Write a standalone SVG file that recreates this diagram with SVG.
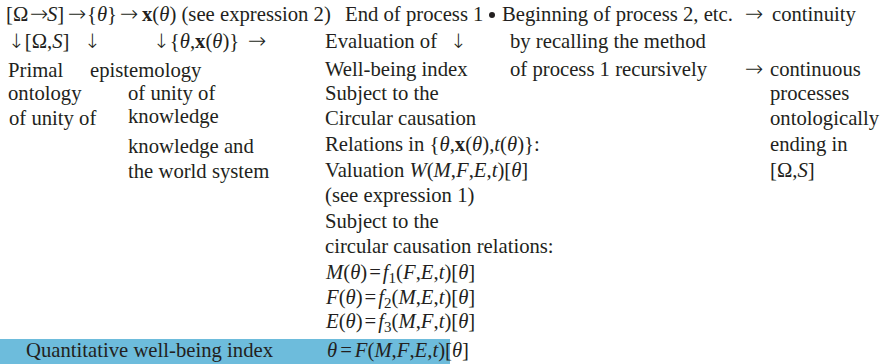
<svg xmlns="http://www.w3.org/2000/svg" width="886" height="364" viewBox="0 0 886 364">
<style>
text{font-family:"Liberation Serif","Times New Roman",serif;font-size:20.7px;fill:#231f20}
.i{font-style:italic}
.b{font-weight:bold}
.sub{font-size:15px}
.a{font-family:"DejaVu Sans",sans-serif;font-size:22px;font-weight:200}
.d{font-family:"DejaVu Sans",sans-serif;font-size:20px;font-weight:200}
</style>
<rect width="886" height="364" fill="#ffffff"/>
<rect id="highlight" x="0" y="339" width="450" height="25" fill="#6dbcdc"/>
<g id="col-ontology">
<text x="6" y="21">[Ω</text>
<text x="30" y="21" class="a">→</text>
<text x="47" y="21"><tspan class="i">S</tspan>]</text>
<text x="68" y="21" class="a">→</text>
<text x="87" y="21">{<tspan class="i">θ</tspan>}</text>
<text x="120" y="21" class="a">→</text>
<text x="142" y="21"><tspan class="b">x</tspan>(<tspan class="i">θ</tspan>) (see expression 2)</text>
<text x="8" y="48"><tspan class="d">↓</tspan>[Ω,<tspan class="i">S</tspan>]</text>
<text x="8" y="77">Primal</text>
<text x="8" y="100">ontology</text>
<text x="9" y="125">of unity of</text>
</g>
<g id="col-epistemology">
<text x="84" y="48" class="d">↓</text>
<text x="90" y="77">epistemology</text>
<text x="128" y="100">of unity of</text>
<text x="128" y="123">knowledge</text>
<text x="128" y="153">knowledge and</text>
<text x="128" y="178">the world system</text>
<text x="153" y="48"><tspan class="d">↓</tspan>{<tspan class="i">θ</tspan>,<tspan class="b">x</tspan>(<tspan class="i">θ</tspan>)}</text>
<text x="248" y="48" class="a">→</text>
</g>
<g id="col-process1">
<text x="345" y="21">End of process 1</text>
<text x="325" y="48">Evaluation of</text>
<text x="450" y="48" class="d">↓</text>
<text x="325" y="76">Well-being index</text>
<text x="325" y="100">Subject to the</text>
<text x="325" y="125">Circular causation</text>
<text x="325" y="151">Relations in {<tspan class="i">θ</tspan>,<tspan class="b">x</tspan>(<tspan class="i">θ</tspan>),<tspan class="i">t</tspan>(<tspan class="i">θ</tspan>)}:</text>
<text x="325" y="177">Valuation <tspan class="i">W</tspan>(<tspan class="i">M</tspan>,<tspan class="i">F</tspan>,<tspan class="i">E</tspan>,<tspan class="i">t</tspan>)[<tspan class="i">θ</tspan>]</text>
<text x="325" y="202">(see expression 1)</text>
<text x="325" y="228">Subject to the</text>
<text x="325" y="253">circular causation relations:</text>
<text x="326" y="279"><tspan class="i">M</tspan>(<tspan class="i">θ</tspan>)<tspan dx="2">=</tspan><tspan class="i" dx="2">f</tspan><tspan class="sub" dy="4">1</tspan><tspan dy="-4">(</tspan><tspan class="i">F</tspan>,<tspan class="i">E</tspan>,<tspan class="i">t</tspan>)[<tspan class="i">θ</tspan>]</text>
<text x="326" y="304"><tspan class="i">F</tspan>(<tspan class="i">θ</tspan>)<tspan dx="2">=</tspan><tspan class="i" dx="2">f</tspan><tspan class="sub" dy="4">2</tspan><tspan dy="-4">(</tspan><tspan class="i">M</tspan>,<tspan class="i">E</tspan>,<tspan class="i">t</tspan>)[<tspan class="i">θ</tspan>]</text>
<text x="326" y="328"><tspan class="i">E</tspan>(<tspan class="i">θ</tspan>)<tspan dx="2">=</tspan><tspan class="i" dx="2">f</tspan><tspan class="sub" dy="4">3</tspan><tspan dy="-4">(</tspan><tspan class="i">M</tspan>,<tspan class="i">F</tspan>,<tspan class="i">t</tspan>)[<tspan class="i">θ</tspan>]</text>
<text x="327" y="357"><tspan class="i">θ</tspan><tspan dx="3">=</tspan><tspan class="i" dx="3">F</tspan>(<tspan class="i">M</tspan>,<tspan class="i">F</tspan>,<tspan class="i">E</tspan>,<tspan class="i">t</tspan>)[<tspan class="i">θ</tspan>]</text>
</g>
<g id="quantitative">
<text x="26" y="357">Quantitative well-being index</text>
</g>
<g id="col-process2">
<circle cx="492" cy="15" r="3" fill="#231f20"/>
<text x="502" y="21">Beginning of process 2, etc.</text>
<text x="510" y="48">by recalling the method</text>
<text x="510" y="76">of process 1 recursively</text>
</g>
<g id="col-continuity">
<text x="745" y="21" class="a">→</text>
<text x="772" y="21">continuity</text>
<text x="745" y="76" class="a">→</text>
<text x="770" y="76">continuous</text>
<text x="770" y="100">processes</text>
<text x="770" y="125">ontologically</text>
<text x="770" y="151">ending in</text>
<text x="770" y="177">[Ω,<tspan class="i">S</tspan>]</text>
</g>
</svg>
